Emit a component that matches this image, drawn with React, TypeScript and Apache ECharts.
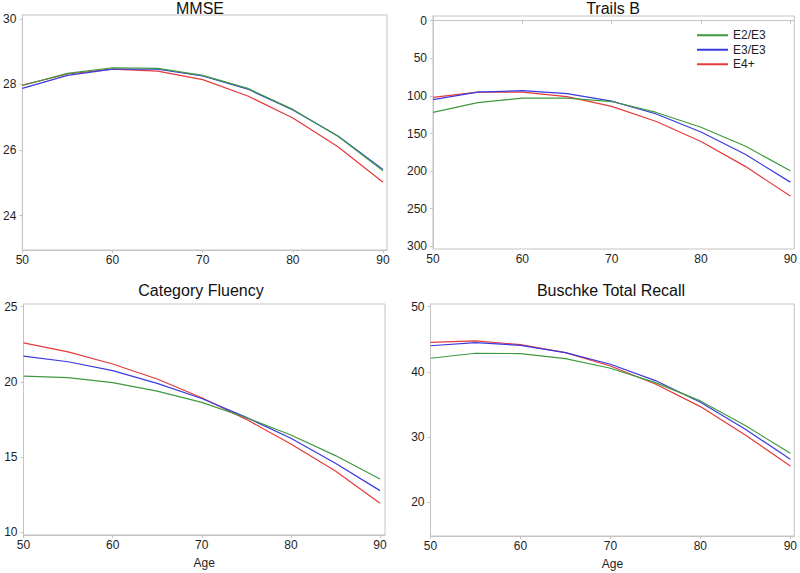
import React, { useEffect, useRef } from "react";
import * as echarts from "echarts";

const ages = [50, 55, 60, 65, 70, 75, 80, 85, 90];
const groups = ["E2/E3", "E3/E3", "E4+"];
const colors = ["#3f9a3f", "#3a3ae0", "#e53a3a"];

const titles = ["MMSE", "Trails B", "Category Fluency", "Buschke Total Recall"];
const xTicks = [50, 60, 70, 80, 90];

const mmseE2 = [27.97, 28.34, 28.51, 28.49, 28.28, 27.88, 27.24, 26.42, 25.37];
const mmseE3 = [27.88, 28.28, 28.47, 28.47, 28.26, 27.86, 27.22, 26.43, 25.41];
const mmseE4 = [27.98, 28.32, 28.47, 28.41, 28.15, 27.65, 26.98, 26.1, 25.02];
const mmseTicks = [24, 26, 28, 30];

const trailsE2 = [122, 109, 103, 103, 107.5, 122, 141.6, 167, 199.5];
const trailsE3 = [105, 95, 93, 97, 107, 124, 148, 178, 214.6];
const trailsE4 = [102, 95, 95, 101, 114, 134, 160.6, 194, 233];
const trailsTicks = [0, 50, 100, 150, 200, 250, 300];

const fluencyE2 = [20.39, 20.28, 19.95, 19.39, 18.64, 17.62, 16.47, 15.1, 13.54];
const fluencyE3 = [21.72, 21.34, 20.75, 19.9, 18.9, 17.64, 16.25, 14.59, 12.77];
const fluencyE4 = [22.6, 22.0, 21.19, 20.19, 18.95, 17.51, 15.87, 14.08, 11.93];
const fluencyTicks = [10, 15, 20, 25];

const recallE2 = [42.08, 42.85, 42.8, 42.03, 40.55, 38.35, 35.54, 31.76, 27.5];
const recallE3 = [44.0, 44.48, 44.07, 42.95, 41.16, 38.66, 35.33, 31.2, 26.6];
const recallE4 = [44.53, 44.74, 44.17, 42.95, 40.9, 38.14, 34.67, 30.33, 25.57];
const recallTicks = [20, 30, 40, 50];

const panelData = [
  [mmseE2, mmseE3, mmseE4],
  [trailsE2, trailsE3, trailsE4],
  [fluencyE2, fluencyE3, fluencyE4],
  [recallE2, recallE3, recallE4],
];
const panelTicks = [mmseTicks, trailsTicks, fluencyTicks, recallTicks];

// layout: grid box and axis extents
const grids = [
  { left: 20, top: 15, width: 367, height: 235 },
  { left: 433, top: 16, width: 362, height: 233 },
  { left: 23.5, top: 304, width: 361.5, height: 231 },
  { left: 430.5, top: 304, width: 366.5, height: 232 },
];
const xMax = [90.44, 90.45, 90.56, 90.44];
const yMin = [22.95, -6.2, 9.82, 14.83];
const yMax = [30.12, 303.5, 25.18, 50.4];
const yInverse = [false, true, false, false];
const titleX = [200, 613, 201, 611];
const titleTop = [0, 0, 282, 282];

const frameColor = "#c4c4c4";
const textColor = "#1e1e1e";
const font = "Liberation Sans, Arial, sans-serif";

export default function App() {
  const ref = useRef<HTMLDivElement>(null);
  useEffect(() => {
    if (!ref.current) return;
    const chart = echarts.init(ref.current, undefined, { renderer: "svg" });
    const series: any[] = [];
    panelData.forEach((sets, p) => {
      sets.forEach((vals, g) => {
        series.push({
          type: "line",
          name: groups[g],
          xAxisIndex: p,
          yAxisIndex: p,
          data: ages.map((a, i) => [a, vals[i]]),
          showSymbol: false,
          symbol: "none",
          lineStyle: { color: colors[g], width: 1.2 },
          itemStyle: { color: colors[g] },
          z: 2 + (2 - g),
        });
      });
    });
    chart.setOption({
      animation: false,
      backgroundColor: "#fff",
      textStyle: { fontFamily: font },
      title: titles.map((t, i) => ({
        text: t,
        left: titleX[i],
        top: titleTop[i],
        textAlign: "center",
        padding: 0,
        textStyle: { fontSize: 16, fontWeight: "normal", color: "#111", fontFamily: font },
      })),
      legend: {
        data: groups,
        orient: "vertical",
        left: 697,
        top: 29,
        icon: "rect",
        itemWidth: 31,
        itemHeight: 2,
        itemGap: 2,
        padding: 0,
        textStyle: { fontSize: 12, color: textColor, fontFamily: font, lineHeight: 12.5, padding: [0, 0, 0, 0] },
      },
      grid: grids.map((g) => ({
        ...g,
        show: true,
        borderColor: frameColor,
        borderWidth: 1,
        backgroundColor: "transparent",
      })),
      xAxis: grids.map((_, i) => ({
        type: "value",
        gridIndex: i,
        min: 50,
        max: xMax[i],
        name: i >= 2 ? "Age" : "",
        nameLocation: "middle",
        nameGap: 22,
        nameTextStyle: { fontSize: 12, color: textColor, fontFamily: font },
        axisLine: { show: true, lineStyle: { color: frameColor } },
        axisTick: { show: true, length: 3, customValues: xTicks, lineStyle: { color: frameColor } },
        axisLabel: { customValues: xTicks, fontSize: 12, color: textColor, margin: 4, fontFamily: font },
        splitLine: { show: false },
      })),
      yAxis: grids.map((_, i) => ({
        type: "value",
        gridIndex: i,
        min: yMin[i],
        max: yMax[i],
        inverse: yInverse[i],
        axisLine: { show: true, lineStyle: { color: frameColor } },
        axisTick: { show: true, length: 3, customValues: panelTicks[i], lineStyle: { color: frameColor } },
        axisLabel: { customValues: panelTicks[i], fontSize: 12, color: textColor, margin: 6, fontFamily: font },
        splitLine: { show: false },
      })),
      series,
    });
    return () => chart.dispose();
  }, []);
  return (
    <div
      ref={ref}
      style={{ position: "fixed", left: 0, top: 0, width: 800, height: 573 }}
    />
  );
}
